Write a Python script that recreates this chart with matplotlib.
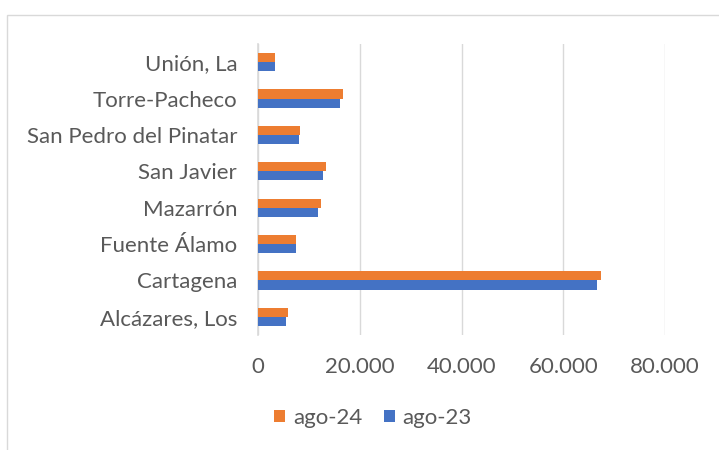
import numpy as np
import matplotlib.pyplot as plt
from matplotlib.patches import Rectangle
from matplotlib.ticker import FuncFormatter

municipios = ["Alcázares, Los", "Cartagena", "Fuente Álamo", "Mazarrón",
              "San Javier", "San Pedro del Pinatar", "Torre-Pacheco", "Unión, La"]
ago_23 = [5500, 66700, 7400, 11850, 12800, 8000, 16200, 3300]
ago_24 = [5950, 67400, 7500, 12400, 13300, 8250, 16800, 3400]

plt.rcParams['font.family'] = ['Lato', 'DejaVu Sans']
gray = "#595959"

fig = plt.figure(figsize=(7.19, 4.5), dpi=100)
ax = fig.add_axes([258 / 719, 1 - 335 / 450, (665 - 258) / 719, (335 - 44) / 450])

y = np.arange(len(municipios))
h = 0.25
ax.barh(y - h / 2, ago_23, height=h, color="#4472C4", label="ago-23", zorder=3)
ax.barh(y + h / 2, ago_24, height=h, color="#ED7D31", label="ago-24", zorder=3)

ax.set_xlim(0, 80000)
ax.set_ylim(-0.5, len(municipios) - 0.5)
ax.set_xticks([0, 20000, 40000, 60000, 80000])
ax.xaxis.set_major_formatter(FuncFormatter(lambda v, p: f"{int(v):,}".replace(",", ".")))
ax.set_yticks(y)
ax.set_yticklabels(municipios)
ax.tick_params(length=0, labelsize=16, colors=gray)
ax.tick_params(axis="y", pad=15)
ax.tick_params(axis="x", pad=16)
ax.grid(axis="x", color="#D9D9D9", linewidth=1, zorder=0)
for s in ["top", "right", "bottom"]:
    ax.spines[s].set_visible(False)
ax.spines["left"].set_color("#D9D9D9")
ax.spines["left"].set_linewidth(1.2)

handles, labels = ax.get_legend_handles_labels()
fig.legend(handles[::-1], labels[::-1], loc="center", bbox_to_anchor=(373 / 719, 1 - 418 / 450),
           ncol=2, frameon=False, fontsize=16, labelcolor=gray, handlelength=0.5,
           handleheight=0.5, handletextpad=0.35, columnspacing=0.95)

fig.patches.append(Rectangle((7 / 719, -0.1), 1.2, 1 - 15 / 450 + 0.1, transform=fig.transFigure,
                             fill=False, edgecolor="#D9D9D9", linewidth=1))

fig.savefig("out.png", dpi=100)
